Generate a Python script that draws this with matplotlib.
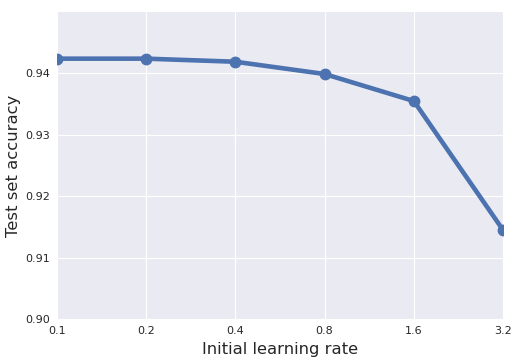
import matplotlib
matplotlib.use("Agg")
from matplotlib import pyplot as plt

learning_rates = ['0.1', '0.2', '0.4', '0.8', '1.6', '3.2']
accuracy = [0.9424, 0.9424, 0.9419, 0.9399, 0.9355, 0.9145]

plt.style.use('seaborn-v0_8-darkgrid')
plt.rcParams['font.family'] = ['DejaVu Sans']

fig = plt.figure(figsize=(5.17, 3.63), dpi=100)
ax = fig.add_axes([0.110, 0.121, 0.863, 0.846])

x = list(range(len(learning_rates)))
ax.plot(x, accuracy, marker='o', linestyle='-', color='#4C72B0',
        linewidth=3.3, markersize=7.5, clip_on=True)

ax.set_xlim(0, len(learning_rates) - 1)
ax.set_ylim(0.90, 0.95)
ax.set_xticks(x)
ax.set_xticklabels(learning_rates)
ax.set_yticks([0.90, 0.91, 0.92, 0.93, 0.94])
ax.tick_params(labelsize=8, colors='#262626', length=0, pad=5)
ax.set_xlabel('Initial learning rate', fontsize=11.8, color='#262626', labelpad=4)
ax.set_ylabel('Test set accuracy', fontsize=11.8, color='#262626', labelpad=3)

fig.savefig('out.png', dpi=100)
